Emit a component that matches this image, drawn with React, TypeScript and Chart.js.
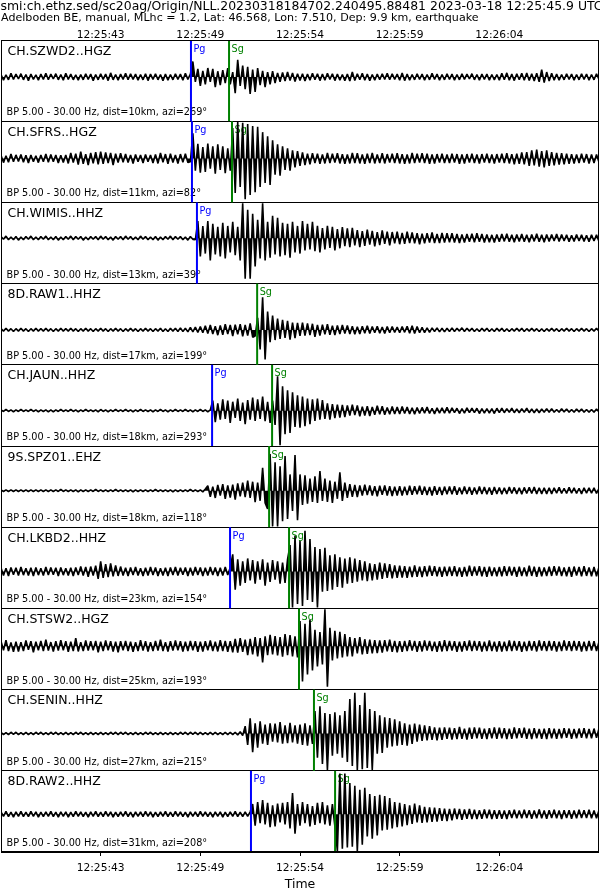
import React, { useEffect, useRef } from "react";
import { Chart, registerables } from "chart.js";

Chart.register(...registerables);

const TITLE_LINE_1 =
  "smi:ch.ethz.sed/sc20ag/Origin/NLL.20230318184702.240495.88481 2023-03-18 12:25:45.9 UTC";
const TITLE_LINE_2 =
  "Adelboden BE, manual, MLhc = 1.2, Lat: 46.568, Lon: 7.510, Dep: 9.9 km, earthquake";

// time axis: seconds from the left edge of the window
const TIME_MIN = 0;
const TIME_MAX = 30;
const TICK_TIMES = [5, 10, 15, 20, 25];
const TICK_LABELS = ["12:25:43", "12:25:49", "12:25:54", "12:25:59", "12:26:04"];
const X_TITLE = "Time";
const SAMPLE_STEP = 0.125; // seconds between samples of the trace arrays

const STATIONS = [
  "CH.SZWD2..HGZ",
  "CH.SFRS..HGZ",
  "CH.WIMIS..HHZ",
  "8D.RAW1..HHZ",
  "CH.JAUN..HHZ",
  "9S.SPZ01..EHZ",
  "CH.LKBD2..HHZ",
  "CH.STSW2..HGZ",
  "CH.SENIN..HHZ",
  "8D.RAW2..HHZ",
];
const FILTER = "BP 5.00 - 30.00 Hz";
const DISTANCES_KM = [10, 11, 13, 17, 18, 18, 23, 25, 27, 31];
const AZIMUTHS = [269, 82, 39, 199, 293, 118, 154, 193, 215, 208];

// pick times (s)
const PG_TIMES = [9.53, 9.58, 9.83, null, 10.59, null, 11.49, null, null, 12.54];
const SG_TIMES = [11.44, 11.59, null, 12.85, 13.6, 13.45, 14.45, 14.95, 15.7, 16.76];

// trace baseline offsets, % of panel half-height (+ = up)
const BASELINES = [9, 8, 12, -14, -13, -10, -9, 7, -8, -7];

// normalized amplitudes (% of panel half-height), one value every SAMPLE_STEP s
// (each row = 2.5 s)
const TRACE_SZWD2 = [
  6, -8, 5, -7, 9, -6, 7, -5, 8, -7, 6, -9, 7, -6, 5, -8, 7, -6, 9, -7,
  7, -5, 8, -7, 6, -8, 9, -6, 7, -7, 5, -8, 6, -7, 8, -6, 7, -9, 6, -7,
  8, -6, 7, -9, 10, -7, 6, -8, 7, -6, 9, -7, 8, -6, 7, -8, 6, -7, 8, -9,
  7, -6, 8, -7, 6, -9, 7, -8, 6, -7, 8, -6, 7, -8, 9, -6, 7, 38, -12, 20,
  -22, 15, -18, 22, -12, 20, -25, 14, -20, 17, -15, 22, -18, 12, -40, 42, -22, 28, -30, 25,
  -42, 18, -37, 22, -20, 15, -25, 12, -18, 14, -15, 10, -12, 11, -10, 12, -9, 10, -11, 8,
  -9, 8, -10, 7, -8, 9, -7, 8, -9, 7, -8, 9, -6, 8, -9, 7, -8, 6, -9, 7,
  -10, 12, -9, 8, -7, 9, -8, 7, -9, 6, -8, 7, -7, 8, -6, 9, -7, 8, -6, 7,
  -8, 10, -9, 7, -8, 6, -7, 8, -6, 7, -8, 6, -7, 9, -6, 7, -8, 6, -7, 8,
  -6, 7, -8, 6, -7, 8, -6, 7, -5, 8, -7, 6, -8, 7, -6, 7, -8, 6, -7, 6,
  -8, 9, -7, 10, -8, 7, -9, 8, -7, 9, -8, 10, -9, 8, -10, 9, -12, 18, -14, 12,
  -10, 9, -8, 7, -8, 6, -7, 8, -6, 7, -8, 6, -7, 8, -6, 7, -8, 6, -7, 8,
  -6,
];
const TRACE_SFRS = [
  8, -10, 7, -9, 11, -8, 9, -7, 10, -9, 8, -11, 9, -8, 7, -10, 9, -8, 11, -9,
  10, -8, 9, -11, 8, -10, 9, -12, 14, -10, 12, -15, 17, -13, 11, -16, 14, -12, 16, -14,
  17, -13, 15, -11, 14, -16, 12, -10, 13, -9, 11, -10, 9, -12, 10, -8, 9, -11, 10, -8,
  9, -11, 10, -12, 14, -9, 11, -13, 12, -10, 9, -12, 11, -9, 12, -10, -8, 62, -30, 36,
  -35, 28, -33, 37, -25, 30, -37, 35, -28, 30, -36, 25, -30, 75, -85, 92, -70, 88, -100, 85,
  -90, 80, -83, 78, -70, 65, -60, 55, -65, 45, -40, 35, -42, 30, -28, 25, -30, 20, -22, 18,
  -18, 15, -16, 12, -14, 13, -11, 12, -13, 10, -12, 14, -11, 12, -10, 13, -12, 11, -13, 10,
  -12, 14, -11, 13, -12, 10, -13, 12, -11, 14, -12, 10, -11, 13, -12, 11, -10, 12, -11, 13,
  -12, 11, -13, 10, -12, 14, -11, 12, -10, 13, -11, 12, -13, 10, -12, 11, -10, 12, -11, 10,
  -11, 12, -10, 11, -13, 10, -12, 11, -10, 12, -11, 10, -12, 11, -10, 12, -11, 10, -12, 11,
  -10, 12, -11, 13, -12, 11, -14, 12, -13, 15, -14, 16, -18, 20, -17, 22, -20, 18, -22, 20,
  -18, 16, -17, 14, -15, 13, -14, 12, -13, 11, -12, 10, -11, 12, -10, 11, -12, 10, -11, 10,
  -9,
];
const TRACE_WIMIS = [
  4, -3, 5, -4, 3, -4, 4, -5, 3, -4, 4, -3, 5, -4, 3, -4, 4, -3, 5, -4,
  3, -4, 4, -5, 3, -4, 4, -3, 5, -4, 4, -3, 4, -5, 3, -4, 4, -3, 4, -4,
  5, -3, 4, -4, 3, -5, 4, -3, 4, -4, 5, -3, 4, -4, 3, -4, 5, -3, 4, -4,
  3, -4, 4, -5, 3, -4, 4, -3, 5, -4, 4, -3, 4, -4, 3, -5, 4, -3, -4, 42,
  -45, 30, -38, 42, -55, 35, -40, 28, -45, 38, -50, 30, -35, 40, -42, 28, -55, 100, -100, 70,
  -100, 60, -70, 45, -50, 100, -55, 40, -48, 55, -40, 50, -45, 38, -42, 35, -48, 40, -35, 30,
  -38, 42, -30, 35, -28, 40, -32, 30, -35, 25, -28, 30, -24, 28, -30, 22, -25, 27, -20, 24,
  -22, 25, -18, 20, -22, 17, -19, 21, -16, 18, -20, 15, -17, 19, -14, 16, -18, 15, -13, 16,
  -15, 13, -14, 16, -12, 14, -13, 12, -15, 11, -13, 12, -11, 14, -12, 10, -12, 13, -11, 12,
  -10, 12, -11, 10, -12, 9, -11, 10, -9, 11, -10, 12, -9, 10, -11, 9, -10, 8, -11, 9,
  -9, 10, -8, 11, -9, 8, -10, 9, -8, 10, -9, 8, -10, 9, -8, 11, -9, 8, -10, 9,
  -8, 9, -7, 10, -8, 9, -7, 8, -9, 7, -8, 9, -7, 8, -8, 7, -9, 8, -7, 8,
  -8,
];
const TRACE_RAW1 = [
  3, -3, 4, -3, 3, -4, 3, -3, 4, -3, 3, -4, 3, -3, 4, -3, 3, -3, 4, -3,
  3, -4, 3, -3, 4, -3, 3, -3, 4, -3, 3, -4, 3, -3, 4, -3, 3, -4, 3, -3,
  4, -3, 3, -4, 3, -3, 4, -3, 3, -4, 3, -3, 4, -3, 3, -4, 3, -3, 4, -3,
  3, -4, 3, -3, 4, -4, 3, -4, 4, -3, 4, -4, 5, -4, 4, -5, 6, -5, 7, -6,
  8, -7, 10, -9, 12, -10, 9, -13, 11, -12, 14, -10, 12, -15, 13, -11, 14, -16, 12, -14,
  16, -18, -15, 30, -48, 80, -73, 45, -30, 35, -25, 28, -22, 25, -20, 22, -24, 18, -20, 17,
  -15, 18, -14, 16, -13, 15, -17, 12, -14, 13, -11, 14, -12, 10, -13, 11, -10, 12, -9, 11,
  -10, 9, -11, 8, -10, 9, -8, 10, -9, 8, -7, 9, -8, 7, -9, 8, -7, 8, -6, 7,
  -7, 8, -6, 9, -8, 10, -9, 8, -7, 6, -7, 5, -6, 5, -4, 5, -5, 4, -5, 4,
  -4, 5, -4, 4, -3, 5, -4, 4, -3, 4, -4, 3, -4, 4, -3, 4, -4, 3, -4, 4,
  -3, 4, -4, 3, -4, 3, -3, 4, -3, 4, -4, 3, -3, 4, -3, 3, -4, 3, -4, 3,
  -3, 4, -3, 3, -4, 3, -3, 4, -3, 3, -4, 3, -3, 4, -3, 3, -4, 3, -3, 4,
  -3,
];
const TRACE_JAUN = [
  2, -2, 3, -2, 2, -3, 2, -2, 3, -2, 2, -2, 3, -2, 2, -3, 2, -2, 2, -3,
  2, -3, 2, -2, 3, -2, 2, -2, 3, -2, 2, -3, 2, -2, 3, -2, 2, -2, 2, -3,
  3, -2, 2, -3, 2, -2, 3, -2, 2, -2, 3, -2, 2, -3, 2, -2, 3, -2, 2, -2,
  2, -3, 2, -2, 3, -2, 2, -3, 2, -2, 3, -2, 2, -2, 3, -2, 2, -3, 2, -2,
  3, -2, 2, -3, 2, 25, -28, 18, -22, 28, -20, 25, -30, 22, -18, 30, -25, 20, -33, 26,
  -22, 32, -25, 28, -20, 35, -26, 22, -30, 25, -35, 85, -100, 60, -58, 50, -55, 45, -40, 38,
  -42, 35, -38, 30, -33, 28, -25, 30, -22, 26, -20, 18, -22, 16, -18, 15, -17, 14, -16, 13,
  -12, 15, -11, 13, -14, 10, -12, 11, -13, 9, -10, 12, -9, 11, -10, 8, -9, 10, -8, 9,
  -8, 10, -7, 9, -8, 7, -9, 8, -7, 8, -6, 9, -7, 6, -8, 7, -6, 7, -6, 8,
  -6, 7, -5, 6, -7, 5, -6, 7, -5, 6, -5, 6, -7, 5, -6, 5, -6, 5, -7, 6,
  -5, 6, -5, 5, -4, 6, -5, 4, -5, 5, -4, 6, -5, 4, -5, 4, -5, 4, -4, 5,
  -4, 5, -4, 3, -4, 5, -3, 4, -4, 3, -4, 4, -3, 4, -4, 3, -4, 3, -4, 4,
  -3,
];
const TRACE_SPZ01 = [
  2, -2, 2, -2, 2, -2, 2, -2, 2, -2, 2, -2, 2, -2, 2, -2, 2, -2, 2, -2,
  2, -2, 2, -2, 3, -2, 2, -2, 2, -2, 2, -3, 2, -2, 2, -2, 2, -2, 3, -2,
  2, -2, 2, -2, 2, -2, 3, -2, 2, -2, 2, -2, 2, -3, 2, -2, 2, -2, 2, -2,
  2, -2, 3, -2, 2, -2, 2, -2, 2, -3, 2, -2, 2, -2, 2, -2, 3, -2, 2, -2,
  2, -3, 4, 12, -15, 10, -18, 14, -12, 16, -20, 13, -17, 15, -22, 18, -14, 20, -16, 25,
  -18, 22, -28, 20, -25, 56, -30, -45, 90, -95, 70, -100, 60, -75, 85, -70, 40, -50, 88, -73,
  40, -35, 38, -32, 30, -28, 35, -30, 48, -25, 30, -28, 25, -30, 22, -20, 45, -25, 20, -18,
  16, -15, 14, -16, 13, -12, 15, -11, 13, -12, 11, -14, 12, -10, 13, -12, 11, -13, 10, -12,
  11, -12, 10, -11, 12, -10, 11, -9, 12, -10, 10, -11, 9, -12, 11, -10, 9, -11, 10, -9,
  10, -9, 11, -10, 8, -9, 10, -8, 9, -10, 8, -9, 10, -8, 9, -9, 8, -10, 9, -8,
  8, -9, 7, -8, 9, -7, 8, -8, 7, -9, 8, -7, 8, -7, 9, -8, 7, -8, 7, -8,
  7, -8, 7, -6, 8, -7, 6, -7, 8, -6, 7, -7, 6, -8, 7, -6, 7, -6, 7, -7,
  6,
];
const TRACE_LKBD2 = [
  9, -10, 8, -11, 10, -8, 9, -10, 11, -9, 8, -10, 9, -11, 10, -9, 8, -10, 11, -9,
  10, -8, 9, -11, 10, -9, 8, -10, 9, -11, 10, -9, 12, -10, 11, -13, 12, -10, 14, -18,
  25, -16, 18, -14, 20, -12, 15, -11, 12, -10, 9, -11, 10, -9, 11, -10, 8, -11, 9, -10,
  11, -9, 10, -11, 8, -10, 9, -11, 10, -9, 11, -10, 9, -8, 10, -11, 9, -10, 11, -9,
  10, -11, 9, -10, 11, -9, 10, -11, 9, -10, 11, -9, 10, 42, -45, 30, -35, 25, -28, 32,
  -22, 28, -30, 25, -20, 30, -35, 22, -26, 28, -20, 25, -30, 22, -28, 30, 65, -90, 88, -80,
  75, -85, 100, -70, 80, -75, 60, -92, 55, -50, 58, -48, 40, -45, 42, -38, 35, -40, 32, -30,
  35, -28, 32, -25, 28, -22, 25, -24, 20, -22, 18, -20, 22, -18, 20, -16, 18, -17, 15, -16,
  14, -15, 13, -16, 12, -14, 15, -13, 12, -14, 13, -12, 14, -11, 13, -12, 11, -13, 12, -11,
  12, -11, 13, -12, 10, -13, 11, -12, 14, -11, 12, -10, 13, -12, 11, -13, 12, -11, 10, -12,
  11, -12, 13, -11, 12, -10, 11, -13, 12, -11, 10, -12, 14, -11, 12, -13, 11, -12, 10, -11,
  12, -11, 13, -10, 12, -11, 10, -12, 11, -13, 12, -10, 11, -12, 13, -11, 10, -12, 11, -12,
  11,
];
const TRACE_STSW2 = [
  12, -10, 15, -12, 9, -14, 11, -13, 10, -12, 14, -9, 12, -15, 11, -10, 13, -12, 16, -11,
  10, -13, 12, -11, 15, -10, 12, -14, 11, -12, 20, -13, 10, -12, 14, -11, 12, -10, 13, -15,
  11, -12, 14, -10, 12, -13, 11, -15, 12, -10, 13, -12, 11, -14, 10, -12, 15, -11, 12, -13,
  10, -12, 13, -11, 16, -12, 10, -13, 12, -11, 14, -10, 12, -13, 11, -12, 13, -10, 12, -14,
  11, -13, 12, -10, 14, -12, 11, -13, 15, -12, 13, -14, 12, -15, 18, -16, 20, -14, 16, -22,
  18, -20, 22, -25, 20, -40, 24, -22, 28, -20, 25, -23, 22, -26, 30, -22, 27, -25, 24, -28,
  62, -87, 55, -70, 65, -60, 40, -50, 35, -45, 100, -100, 45, -35, 38, -30, 35, -28, 30, -25,
  22, -25, 20, -18, 22, -20, 17, -19, 16, -18, 15, -17, 14, -16, 15, -13, 16, -14, 13, -15,
  12, -14, 13, -12, 15, -11, 13, -14, 12, -13, 14, -11, 13, -12, 11, -14, 12, -13, 15, -12,
  13, -11, 12, -14, 11, -13, 12, -11, 14, -12, 13, -11, 12, -13, 11, -12, 14, -12, 11, -13,
  12, -13, 11, -12, 14, -12, 13, -11, 12, -14, 11, -12, 13, -11, 12, -13, 14, -11, 12, -12,
  13, -11, 12, -13, 11, -12, 14, -11, 12, -12, 13, -11, 12, -13, 11, -12, 13, -11, 12, -12,
  11,
];
const TRACE_SENIN = [
  3, -3, 2, -3, 3, -2, 3, -3, 2, -3, 3, -3, 2, -3, 3, -2, 3, -3, 2, -3,
  3, -2, 3, -3, 2, -3, 3, -3, 2, -3, 3, -2, 3, -3, 2, -3, 3, -3, 2, -3,
  3, -3, 2, -3, 3, -2, 3, -3, 3, -2, 3, -3, 2, -3, 3, -3, 2, -3, 3, -2,
  3, -3, 2, -3, 3, -3, 2, -3, 3, -3, 2, -3, 3, -2, 3, -3, 3, -2, 3, -3,
  3, -3, 2, -3, 3, -3, 3, -3, 2, -3, 3, -3, 3, -3, 3, -4, 4, -5, 18, -28,
  37, -46, 25, -35, 30, -25, 22, -28, 25, -20, 24, -22, 28, -25, 20, -24, 26, -22, 20, -25,
  22, -28, 25, -30, 20, -26, 55, -60, 67, -75, 50, -92, 48, -55, 52, -50, 45, -60, 55, -70,
  85, -80, 100, -92, 70, -88, 100, -85, 60, -92, 55, -50, 45, -48, 40, -35, 38, -32, 35, -30,
  30, -28, 25, -30, 22, -26, 24, -20, 22, -18, 20, -17, 18, -16, 15, -17, 14, -16, 15, -13,
  14, -15, 13, -14, 16, -13, 12, -15, 14, -13, 15, -12, 14, -13, 12, -14, 13, -12, 15, -13,
  14, -12, 13, -14, 12, -13, 15, -12, 13, -11, 14, -13, 12, -14, 13, -12, 11, -13, 12, -14,
  13, -12, 12, -13, 11, -12, 13, -11, 12, -13, 11, -12, 12, -11, 13, -12, 11, -12, 12, -11,
  12,
];
const TRACE_RAW2 = [
  6, -5, 7, -6, 5, -7, 6, -5, 7, -6, 5, -6, 7, -5, 6, -7, 5, -6, 6, -5,
  7, -6, 5, -7, 6, -5, 6, -7, 5, -6, 7, -5, 6, -6, 5, -7, 6, -5, 7, -6,
  5, -6, 7, -5, 6, -7, 5, -6, 6, -5, 7, -6, 5, -7, 6, -5, 6, -6, 7, -5,
  6, -7, 5, -6, 6, -5, 7, -6, 5, -6, 7, -5, 6, -6, 5, -7, 6, -5, 6, -6,
  7, -5, 6, -6, 5, -7, 6, -5, 6, -7, 5, -6, 6, -5, 7, -6, 5, -6, 6, -5,
  6, 25, -28, 30, -22, 35, -25, 28, -32, 22, -30, 26, -20, 28, -25, 30, -35, 52, -48, 25,
  -28, 30, -22, 25, -30, 20, -26, 28, -22, 30, -25, 22, -28, 25, -30, -100, 100, -85, 100, -82,
  77, -80, 70, -100, 60, -75, 65, -55, 50, -60, 45, -52, 48, -40, 45, -38, 40, -35, 30, -32,
  28, -30, 25, -27, 22, -24, 26, -20, 22, -21, 18, -20, 17, -19, 16, -18, 15, -16, 14, -17,
  13, -15, 14, -12, 13, -14, 12, -11, 13, -12, 11, -12, 10, -11, 12, -10, 11, -12, 10, -11,
  10, -11, 9, -12, 10, -9, 11, -10, 9, -10, 11, -9, 10, -11, 9, -10, 12, -10, 9, -11,
  10, -9, 11, -10, 9, -12, 10, -9, 10, -11, 9, -10, 11, -9, 10, -9, 11, -10, 9, -10,
  10,
];

const TRACES = [
  TRACE_SZWD2,
  TRACE_SFRS,
  TRACE_WIMIS,
  TRACE_RAW1,
  TRACE_JAUN,
  TRACE_SPZ01,
  TRACE_LKBD2,
  TRACE_STSW2,
  TRACE_SENIN,
  TRACE_RAW2,
];

const FONT = '"DejaVu Sans", "Liberation Sans", sans-serif';
const PG_COLOR = "#0000ff";
const SG_COLOR = "#008000";

const seisPlugin = {
  id: "seisText",
  beforeDatasetsDraw(chart: any) {
    const { ctx, chartArea, scales } = chart;
    const xs = scales.x;
    const ys = scales.y;
    const n = STATIONS.length;
    ctx.save();
    ctx.textAlign = "left";
    ctx.textBaseline = "alphabetic";
    for (let k = 0; k < n; k++) {
      const top = ys.getPixelForValue(n - k);
      const bottom = ys.getPixelForValue(n - k - 1);
      ctx.fillStyle = "#000";
      ctx.font = `12.5px ${FONT}`;
      ctx.fillText(STATIONS[k], chartArea.left + 6.5, top + 14.5);
      ctx.font = `9.7px ${FONT}`;
      ctx.fillText(
        `${FILTER}, dist=${DISTANCES_KM[k]}km, azi=${AZIMUTHS[k]}\u00b0`,
        chartArea.left + 5.5,
        bottom - 6
      );
      const pg = PG_TIMES[k];
      if (pg != null) {
        ctx.fillStyle = PG_COLOR;
        ctx.fillText("Pg", xs.getPixelForValue(pg) + 2.5, top + 11.5);
      }
      const sg = SG_TIMES[k];
      if (sg != null) {
        ctx.fillStyle = SG_COLOR;
        ctx.fillText("Sg", xs.getPixelForValue(sg) + 2.5, top + 11.5);
      }
    }
    ctx.restore();
  },
  afterDatasetsDraw(chart: any) {
    const { ctx, chartArea } = chart;
    ctx.save();
    ctx.strokeStyle = "#000";
    ctx.lineWidth = 1;
    ctx.strokeRect(
      chartArea.left + 0.5,
      chartArea.top + 0.5,
      chartArea.right - chartArea.left - 1,
      chartArea.bottom - chartArea.top - 1
    );
    ctx.restore();
  },
  afterDraw(chart: any) {
    const { ctx, scales } = chart;
    ctx.save();
    ctx.fillStyle = "#000";
    ctx.textAlign = "left";
    ctx.textBaseline = "alphabetic";
    ctx.font = `12.45px ${FONT}`;
    ctx.fillText(TITLE_LINE_1, 0.5, 10);
    ctx.font = `11.1px ${FONT}`;
    ctx.fillText(TITLE_LINE_2, 1, 21);
    // top time-axis labels
    ctx.font = `10.7px ${FONT}`;
    ctx.textAlign = "center";
    ctx.textBaseline = "middle";
    TICK_TIMES.forEach((t, i) => {
      ctx.fillText(TICK_LABELS[i], scales.x.getPixelForValue(t), 35.5);
    });
    ctx.restore();
  },
};

function tickLabel(value: any) {
  const idx = TICK_TIMES.indexOf(Number(value));
  return idx >= 0 ? TICK_LABELS[idx] : "";
}

function setTicks(scale: any) {
  scale.ticks = TICK_TIMES.map((v) => ({ value: v }));
}

export default function App() {
  const canvasRef = useRef<HTMLCanvasElement>(null);

  useEffect(() => {
    if (!canvasRef.current) return;
    const n = STATIONS.length;
    const datasets: any[] = [];

    // picks first so they are drawn on top of the traces
    for (let k = 0; k < n; k++) {
      const lo = n - k - 1;
      const hi = n - k;
      const pg = PG_TIMES[k];
      if (pg != null) {
        datasets.push({
          data: [
            { x: pg, y: lo },
            { x: pg, y: hi },
          ],
          borderColor: PG_COLOR,
          borderWidth: 2,
          pointRadius: 0,
          fill: false,
        });
      }
      const sg = SG_TIMES[k];
      if (sg != null) {
        datasets.push({
          data: [
            { x: sg, y: lo },
            { x: sg, y: hi },
          ],
          borderColor: SG_COLOR,
          borderWidth: 2,
          pointRadius: 0,
          fill: false,
        });
      }
    }

    for (let k = 0; k < n; k++) {
      const center = n - k - 0.5;
      const base = BASELINES[k];
      const data = TRACES[k].map((v, i) => ({
        x: i * SAMPLE_STEP,
        y: center + Math.max(-0.49, Math.min(0.49, (base + v) / 200)),
      }));
      datasets.push({
        data,
        borderColor: "#000",
        backgroundColor: "#000",
        borderWidth: 1.6,
        borderJoinStyle: "bevel",
        pointRadius: 0,
        tension: 0,
        fill: { value: center + base / 200 },
      });
    }

    const chart = new Chart(canvasRef.current, {
      type: "line",
      data: { datasets },
      plugins: [seisPlugin],
      options: {
        animation: false,
        responsive: true,
        maintainAspectRatio: false,
        events: [],
        layout: { padding: { left: 1, right: 1, top: 0, bottom: 0 } },
        plugins: { legend: { display: false }, tooltip: { enabled: false } },
        scales: {
          x: {
            type: "linear",
            position: "bottom",
            min: TIME_MIN,
            max: TIME_MAX,
            afterBuildTicks: setTicks,
            afterFit: (s: any) => {
              s.height = 42;
            },
            ticks: {
              callback: tickLabel,
              autoSkip: false,
              maxRotation: 0,
              padding: 6,
              color: "#000",
              font: { family: FONT, size: 10.7 },
            },
            grid: {
              display: true,
              drawOnChartArea: false,
              drawTicks: true,
              tickLength: 4,
              color: "#000",
            },
            border: { display: false },
            title: {
              display: true,
              text: X_TITLE,
              color: "#000",
              font: { family: FONT, size: 12.5 },
              padding: { top: 2, bottom: 2 },
            },
          },
          xTop: {
            type: "linear",
            position: "top",
            min: TIME_MIN,
            max: TIME_MAX,
            afterFit: (s: any) => {
              s.height = 40;
            },
            ticks: { display: false },
            grid: { display: false },
            border: { display: false },
          },
          y: {
            type: "linear",
            min: 0,
            max: n,
            afterFit: (s: any) => {
              s.width = 0;
            },
            ticks: { display: false, stepSize: 1 },
            grid: { color: "#000", drawTicks: false, lineWidth: 1 },
            border: { display: false },
          },
        },
      },
    });
    return () => chart.destroy();
  }, []);

  return (
    <div
      style={{
        position: "absolute",
        left: 0,
        top: 0,
        width: 600,
        height: 894,
        background: "#fff",
      }}
    >
      <canvas ref={canvasRef} />
    </div>
  );
}
